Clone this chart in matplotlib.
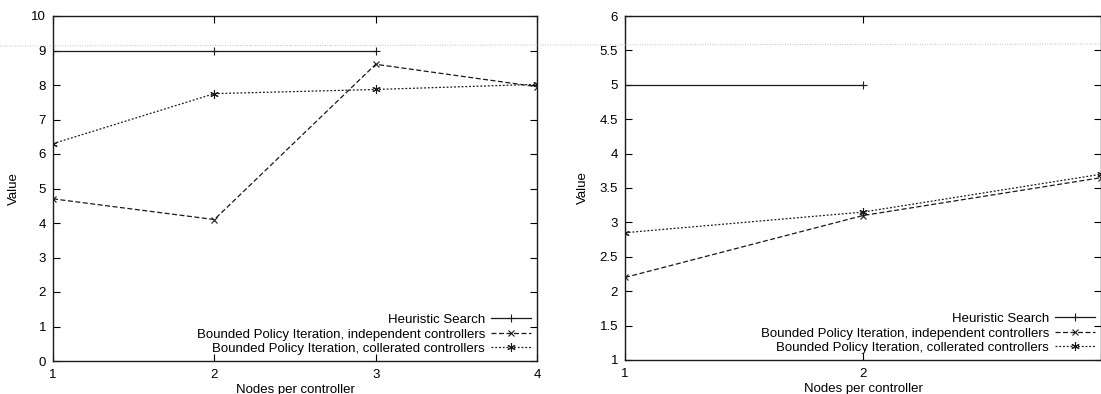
import matplotlib
matplotlib.use('Agg')
import matplotlib.pyplot as plt
from matplotlib.lines import Line2D

plt.rcParams['font.family'] = ['Liberation Sans', 'DejaVu Sans']
plt.rcParams['font.size'] = 9.5

# left panel
nodes_l = [1, 2, 3, 4]
heur_l = [9, 9, 9]
indep_l = [4.7, 4.1, 8.6, 7.95]
coll_l = [6.3, 7.75, 7.87, 8.02]

# right panel
nodes_r = [1, 2, 3]
heur_r = [5, 5]
indep_r = [2.2, 3.1, 3.65]
coll_r = [2.85, 3.15, 3.7]

labels = ['Heuristic Search',
          'Bounded Policy Iteration, independent controllers',
          'Bounded Policy Iteration, collerated controllers']

ink = '#1a1a1a'
star = (6, 2, 0)

fig = plt.figure(figsize=(11.01, 3.94), dpi=100)
ax1 = fig.add_axes([53/1101, 33/394, 484/1101, 345/394])
ax2 = fig.add_axes([625/1101, 34/394, 476/1101, 344/394])


def draw(ax, x, h, ind, col):
    ax.plot(x[:len(h)], h, color=ink, lw=0.9, marker='+', ms=6, mew=0.8, label=labels[0])
    ax.plot(x, ind, color=ink, lw=0.9, ls=(0, (4, 2)), marker='x', ms=5, mew=0.8, label=labels[1])
    ax.plot(x, col, color=ink, lw=0.9, ls=(0, (1.5, 1.5)), marker=star, ms=6, mew=0.8, label=labels[2])
    ax.tick_params(direction='in', top=True, right=True, length=5, width=0.8, pad=5)
    ax.tick_params(axis='x', pad=6)
    for s in ax.spines.values():
        s.set_linewidth(1.0)
        s.set_color(ink)
    ax.set_xlabel('Nodes per controller', labelpad=2)
    ax.set_ylabel('Value', labelpad=8)
    ax.legend(loc='lower right', frameon=False, markerfirst=False, handlelength=3.0,
              handletextpad=0.5, labelspacing=0.17, borderaxespad=0.05, fontsize=9.5)


draw(ax1, nodes_l, heur_l, indep_l, coll_l)
ax1.set_xlim(1, 4)
ax1.set_ylim(0, 10)
ax1.set_xticks([1, 2, 3, 4])
ax1.set_yticks(range(0, 11))

draw(ax2, nodes_r, heur_r, indep_r, coll_r)
ax2.set_xlim(1, 3)
ax2.set_ylim(1, 6)
ax2.set_xticks([1, 2, 3])
ax2.set_xticklabels(['1', '2', ''])
ax2.set_yticks([1, 1.5, 2, 2.5, 3, 3.5, 4, 4.5, 5, 5.5, 6])
ax2.set_yticklabels(['1', '1.5', '2', '2.5', '3', '3.5', '4', '4.5', '5', '5.5', '6'])

# faint dotted scan line running across the page
fig.add_artist(Line2D([0, 1], [1 - 46/394, 1 - 44/394], transform=fig.transFigure,
                      color='#aaaaaa', lw=0.6, ls=(0, (1, 2)), zorder=5))

fig.savefig('out.png', dpi=100)
